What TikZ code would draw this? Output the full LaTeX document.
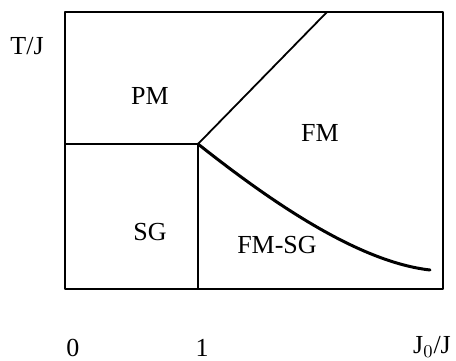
\documentclass[tikz,border=0pt]{standalone}
\usepackage{fontspec}
\setmainfont{Liberation Serif}
\usetikzlibrary{arrows.meta}
\tikzset{
  every picture/.style={line join=round, line cap=round},
  frame/.style={line width=1.1pt},
  border/.style={line width=0.9pt},
  phase/.style={font=\fontsize{13}{15}\selectfont},
}

\begin{document}
\begin{tikzpicture}[x=0.5pt,y=-0.5pt]
\useasboundingbox (0,0) rectangle (456,360);
% frame of the diagram
\draw[frame](65,12)rectangle(443,289);
\coordinate (tc) at (198,144);
\coordinate (sgl) at (65,144);
\coordinate (sgb) at (198,289);
\coordinate (fmt) at (327,12);
\coordinate (fse) at (430,270);
% phase boundaries
\draw[border](sgl)--(tc)--(sgb);
\draw[border](tc)--(fmt);
\draw[line width=1.5pt](tc)..controls(275,205)and(360,262)..(fse);
% phases
\node[phase] (pm) at (150,96){PM};
\node[phase] (fm) at (320,133){FM};
\node[phase] (sg) at (150,232){SG};
\node[phase] (fmsg) at (277,245){FM-SG};
% axes labels
\node[phase] (ylab) at (27,46){T/J};
\node[phase] (x0) at (73,348){0};
\node[phase] (x1) at (202,348){1};
\node[phase] (xlab) at (432,347){J$_0$/J};
\end{tikzpicture}
\end{document}
